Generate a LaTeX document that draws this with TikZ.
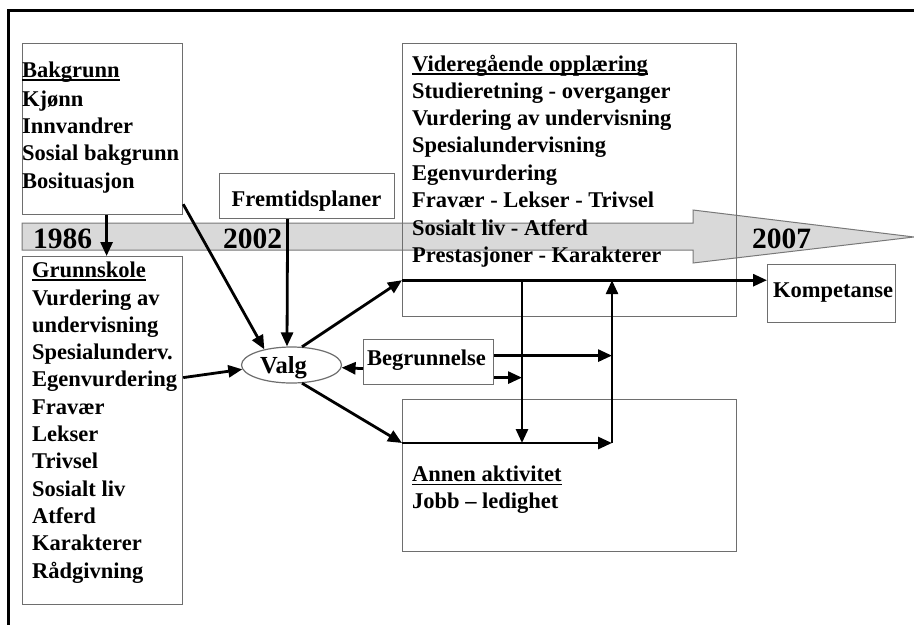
\documentclass[tikz,border=0pt]{standalone}
\usepackage{fontspec}
\setmainfont{Liberation Serif}
\usetikzlibrary{arrows.meta,shapes.geometric}
\definecolor{boxgray}{RGB}{110,110,110}
\definecolor{bandfill}{RGB}{217,217,217}
\definecolor{bandborder}{RGB}{120,120,120}
\newcommand\ulbox[1]{\setbox0\hbox{#1}\rlap{\rule[-3.8pt]{\wd0}{1.6pt}}\box0}
\begin{document}
\begin{tikzpicture}[x=1pt,y=-1pt,
  box/.style={draw=boxgray, line width=1.2pt, rectangle, inner sep=0pt, anchor=north west},
  txt/.style={anchor=base west, inner sep=0pt, font=\fontsize{22.5}{27}\selectfont\bfseries},
  yr/.style={anchor=base west, inner sep=0pt, font=\fontsize{29.5}{34}\selectfont\bfseries},
  conn/.style={line width=2.8pt, -{Triangle[length=14pt,width=12pt]}}
]
\useasboundingbox[fill=white] (0,0) rectangle (914,625);
% outer frame (top and left edges visible)
\draw[line width=3.5pt] (914,10.7) -- (8.3,10.7) -- (8.3,625);
% time band
\draw[draw=bandborder, fill=bandfill, line width=1pt]
  (22,223) -- (693,223) -- (693,210) -- (914,237) -- (693,263) -- (693,250) -- (22,250) -- cycle;
\node[yr] (y1986) at (33,248) {1986};
\node[yr] (y2002) at (223,248) {2002};
\node[yr] (y2007) at (752,248) {2007};
% boxes
\node[box, minimum width=160pt, minimum height=171pt] (bak) at (22,43) {};
\node[box, minimum width=160pt, minimum height=348pt] (grunn) at (22,256) {};
\node[box, minimum width=175pt, minimum height=45pt] (frem) at (219,173) {};
\node[box, minimum width=334pt, minimum height=273pt] (video) at (402,43) {};
\node[box, minimum width=128pt, minimum height=58pt] (komp) at (767,264) {};
\node[box, minimum width=130pt, minimum height=45pt] (beg) at (363,339) {};
\node[box, minimum width=334pt, minimum height=152pt] (annen) at (402,399) {};
\node[draw=boxgray, line width=1.2pt, fill=white, ellipse, inner sep=0pt,
  minimum width=100pt, minimum height=36pt] (valg) at (291.5,365) {};
% texts
\node[txt] (bakt) at (22,77) {\ulbox{Bakgrunn}};
\foreach \t [count=\i from 0] in {Kjønn,Innvandrer,Sosial bakgrunn,Bosituasjon}
  \node[txt] (bakl\i) at (22,{106+27.4*\i}) {\t};
\node[txt] (grunnt) at (32,277) {\ulbox{Grunnskole}};
\foreach \t [count=\i from 0] in {Vurdering av,undervisning,Spesialunderv.,Egenvurdering,Fravær,Lekser,Trivsel,Sosialt liv,Atferd,Karakterer,Rådgivning}
  \node[txt] (grunnl\i) at (32,{305+27.3*\i}) {\t};
\node[txt] (videot) at (412,71) {\ulbox{Videregående opplæring}};
\foreach \t [count=\i from 0] in {Studieretning - overganger,Vurdering av undervisning,Spesialundervisning,Egenvurdering,Fravær - Lekser - Trivsel,Sosialt liv - Atferd,Prestasjoner - Karakterer}
  \node[txt] (videol\i) at (412,{98+27.4*\i}) {\t};
\node[txt] (annent) at (412,481.5) {\ulbox{Annen aktivitet}};
\node[txt] (annenl) at (412,508.5) {Jobb – ledighet};
\node[txt, anchor=base] (fremt) at (306.5,206) {Fremtidsplaner};
\node[txt] (begt) at (367,365) {Begrunnelse};
\node[txt] (kompt) at (773,297) {Kompetanse};
\node[txt, font=\fontsize{24.5}{28}\selectfont\bfseries] (valgt) at (260,373) {Valg};
% junction coordinates
\coordinate (vJ) at ([yshift=37]video.south west);
\coordinate (aJ) at ([yshift=-44]annen.north west);
\coordinate (d1) at ([xshift=120]vJ);
\coordinate (r1) at ([xshift=210]aJ);
\coordinate (r2) at (r1 |- vJ);
\coordinate (bE1) at ([yshift=6.5]beg.east);
\coordinate (bE2) at ([yshift=-15.5]beg.east);
% connectors
\draw[conn] ([xshift=4]bak.south) -- ([xshift=4]grunn.north);
\draw[conn] ([yshift=11]bak.south east) -- (valg.150);
\draw[conn] ([xshift=-19.5]frem.south) -- ([xshift=-4.5]valg.north);
\draw[conn] ([yshift=53]grunn.east) -- (valg.185);
\draw[conn] (valg.60) -- (vJ);
\draw[conn] (valg.-60) -- (aJ);
\draw[conn] ([yshift=-6.5]beg.west) -- (valg.-3.5);
\draw[conn] (bE1) -- (bE1 -| r1);
\draw[conn] (bE2) -- (bE2 -| d1);
\draw[conn] (vJ) -- (vJ -| komp.west);
\draw[conn] (d1) -- (d1 |- aJ);
\draw[conn] (aJ) -- (r1);
\draw[conn] (r1) -- (r2);
\end{tikzpicture}
\end{document}
